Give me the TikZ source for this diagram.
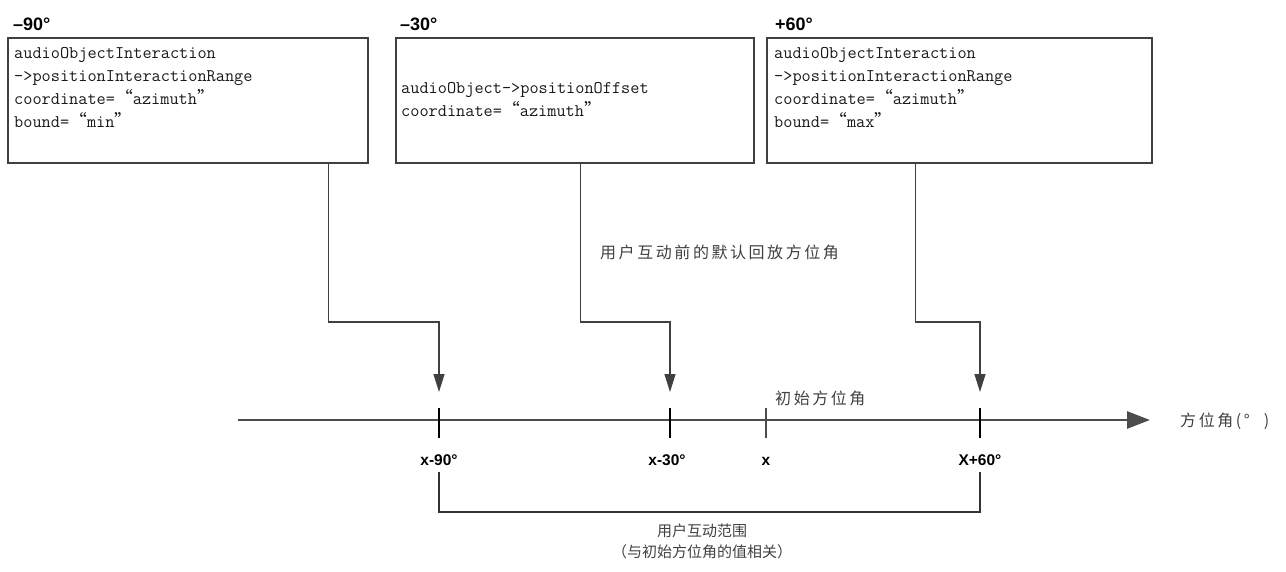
\documentclass[tikz,border=0pt]{standalone}
\usepackage{fontspec}
\newfontfamily\cjk{Noto Sans CJK SC}
\newfontfamily\cjksp[LetterSpace=16]{Noto Sans CJK SC}
\newfontfamily\degfont{Liberation Sans}
\newcommand{\oq}{{\cjk “}}\newcommand{\cq}{{\cjk ”}}
\usetikzlibrary{arrows.meta,calc}

\begin{document}
\begin{tikzpicture}[x=1pt,y=-1pt,
 box/.style={draw=black!75,line width=1.6pt,inner sep=0pt,minimum height=125pt},
 boxtxt/.style={font=\fontsize{17.8}{23}\selectfont\ttfamily,text=black!90,align=left,inner sep=0pt,anchor=north west},
 deg/.style={font=\fontsize{18}{20}\selectfont\degfont\bfseries,inner sep=0pt,anchor=base west},
 flow/.style={draw=black!75,line width=1.3pt,-{Triangle[length=18pt,width=11pt]}},
 tick/.style={line width=2.6pt},
 ticklbl/.style={font=\fontsize{15.5}{17}\selectfont\degfont\bfseries,inner sep=0pt,anchor=base},
 zh/.style={font=\fontsize{16}{20}\selectfont\cjksp,text=black!75,inner sep=0pt}]
\useasboundingbox (0,0) rectangle (1286,572);
% parameter boxes
\node[box,minimum width=360pt] (azMin) at (188,100.5) {};
\node[box,minimum width=358pt] (azOff) at (575,100.5) {};
\node[box,minimum width=385pt] (azMax) at (959.5,100.5) {};
\node[deg] (degMin) at (13,31) {–90°};
\node[deg] (degOff) at (400,31) {–30°};
\node[deg] (degMax) at (775,31) {+60°};
\node[boxtxt] (txtMin) at (14,47.5) {audioObjectInteraction\\->positionInteractionRange\\coordinate=\oq azimuth\cq\\bound=\oq min\cq};
\node[boxtxt] (txtOff) at (401,82.5) {audioObject->positionOffset\\coordinate=\oq azimuth\cq};
\node[boxtxt] (txtMax) at (774,47.5) {audioObjectInteraction\\->positionInteractionRange\\coordinate=\oq azimuth\cq\\bound=\oq max\cq};
% azimuth axis
\coordinate (axL) at (238,420);\coordinate (axR) at (1150,420);
\draw[draw=black!70,line width=2.8pt,-{Triangle[length=23pt,width=17pt]}] (axL)--(axR);
\node[zh,anchor=west] (axLbl) at (1180,421) {方位角(°\hspace{14pt})};
\coordinate (tMin) at (439,420);\coordinate (tOff) at (670,420);
\coordinate (tX) at (766,420);\coordinate (tMax) at (980,420);
\foreach \t in {tMin,tOff,tMax} \draw[tick] ($(\t)+(0,-12)$)--($(\t)+(0,18)$);
\draw[tick,black!70,line width=2pt] ($(tX)+(0,-12)$)--($(tX)+(0,18)$);
\node[ticklbl] (lMin) at (439,465) {x-90°};
\node[ticklbl] (lOff) at (667,465) {x-30°};
\node[ticklbl] (lX) at (766,465) {x};
\node[ticklbl] (lMax) at (980,465) {X+60°};
\node[zh,anchor=west] (initLbl) at (775,398) {初始方位角};
% connectors
\coordinate (eMin) at (439,392);\coordinate (eOff) at (670,392);\coordinate (eMax) at (980,392);
\draw[flow] ($(azMin.south west)+(321,0)$) |- ($(eMin)+(0,-70)$) -- (eMin);
\draw[flow] ($(azOff.south west)+(185,0)$) |- ($(eOff)+(0,-70)$) -- (eOff);
\draw[flow] ($(azMax.south west)+(149,0)$) |- ($(eMax)+(0,-70)$) -- (eMax);
\node[zh,anchor=west] (defLbl) at (600,252) {用户互动前的默认回放方位角};
% interaction range
\draw[draw=black!80,line width=1.8pt] ($(tMin)+(0,52)$) |- ($(tMax)+(0,92)$) -- ($(tMax)+(0,52)$);
\node[zh,font=\fontsize{15}{21}\selectfont\cjk,align=center] (rngLbl) at (702,541) {用户互动范围\\（与初始方位角的值相关）};
\end{tikzpicture}
\end{document}
